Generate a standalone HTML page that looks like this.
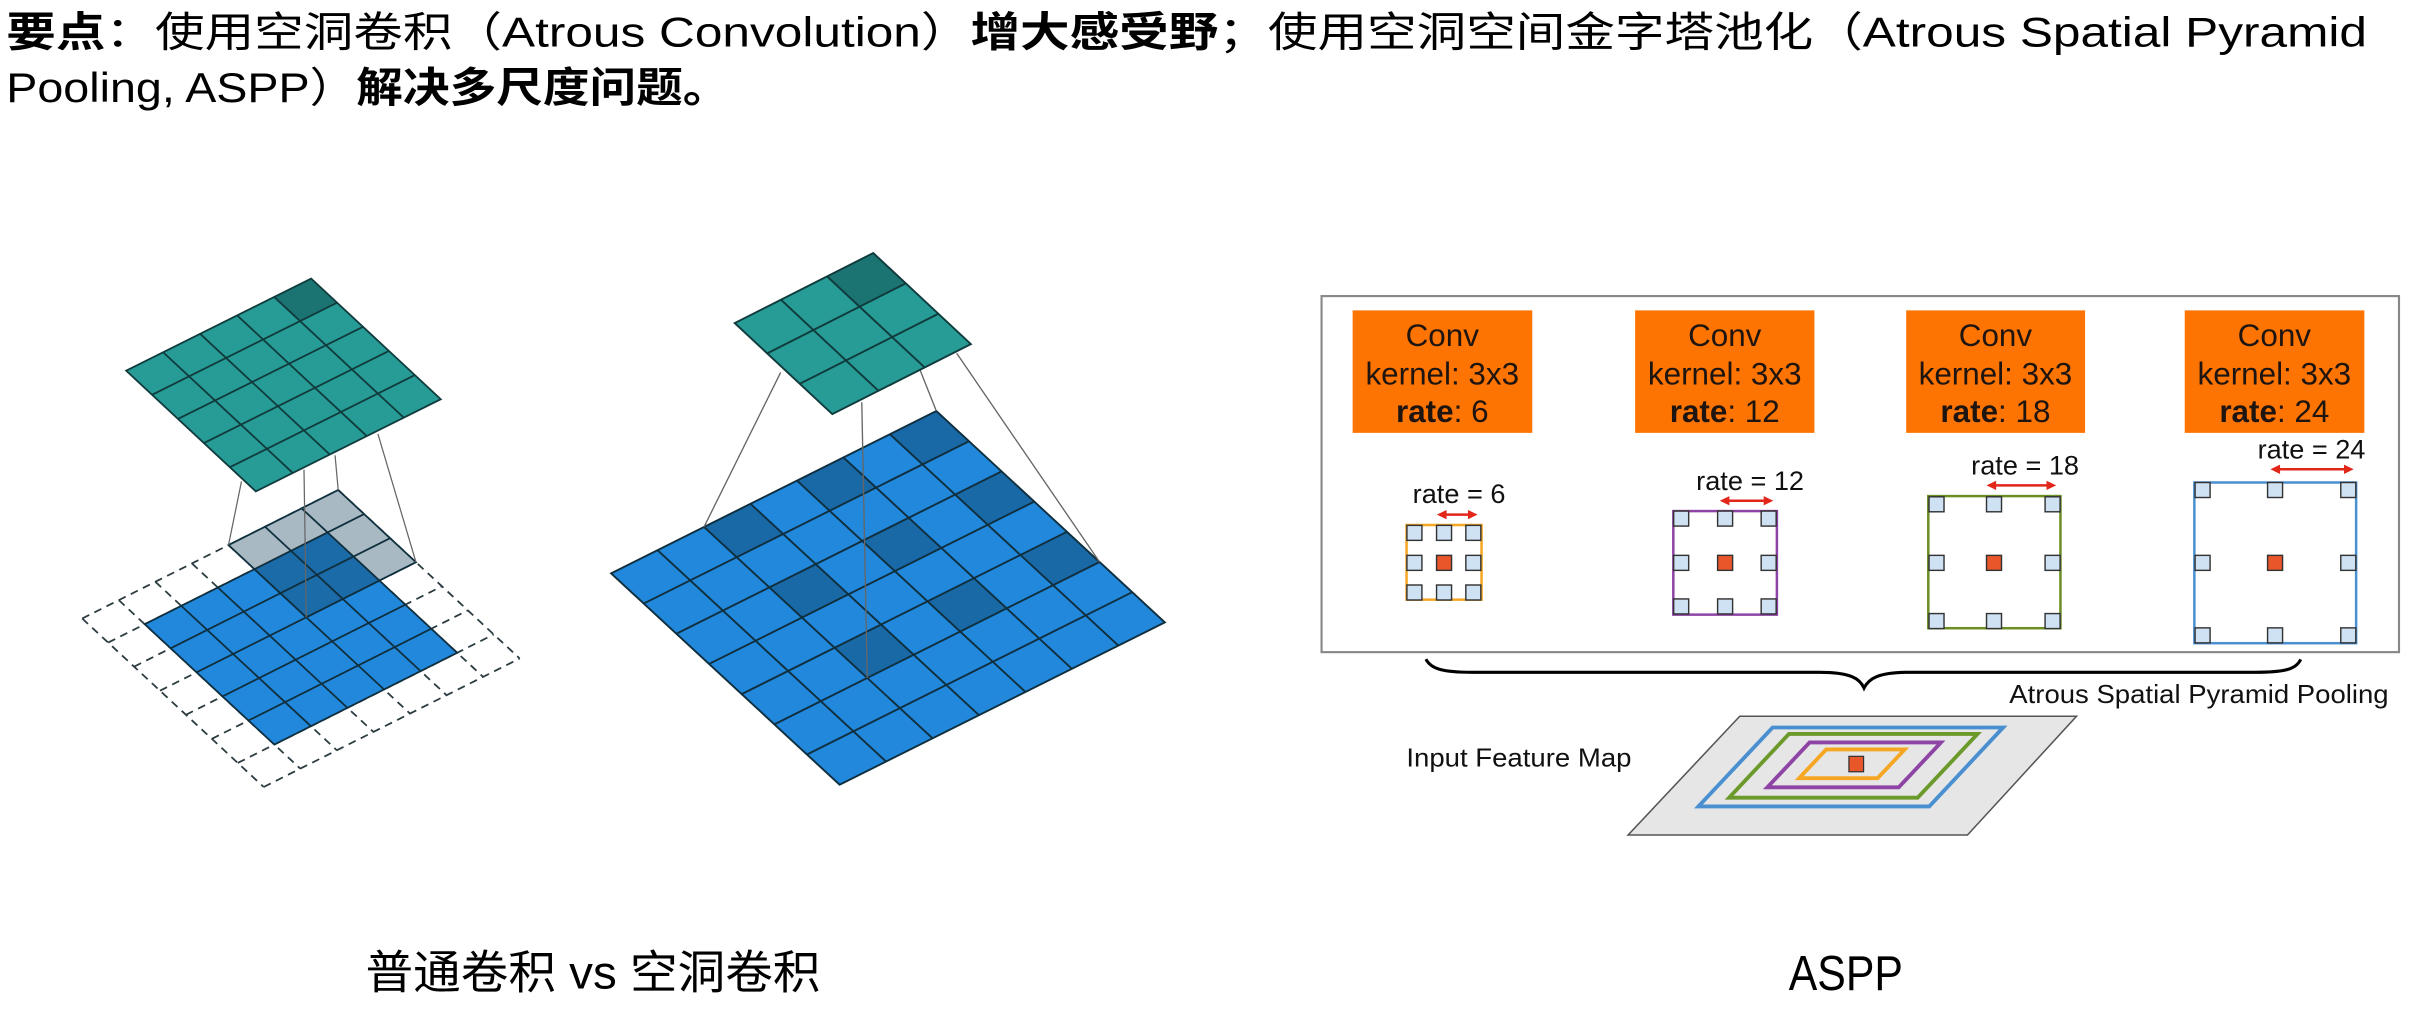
<!DOCTYPE html>
<html><head><meta charset="utf-8"><style>
html,body{margin:0;padding:0;background:#fff;}
svg{display:block;}
</style></head><body>
<svg width="2418" height="1014" viewBox="0 0 1568 657.6" xmlns="http://www.w3.org/2000/svg" font-family="'Liberation Sans','Noto Sans CJK SC',sans-serif">
<rect x="0" y="0" width="1568" height="657.6" fill="#fff"/>
<!-- Title -->
<text x="4" y="30" font-size="27" fill="#000" textLength="1531" lengthAdjust="spacingAndGlyphs"><tspan font-weight="bold">要点</tspan>：使用空洞卷积（Atrous Convolution）<tspan font-weight="bold">增大感受野</tspan>；使用空洞空间金字塔池化（Atrous Spatial Pyramid</text>
<text x="4" y="66" font-size="27" fill="#000" textLength="469" lengthAdjust="spacingAndGlyphs">Pooling, ASPP）<tspan font-weight="bold">解决多尺度问题。</tspan></text>

<!-- LEFT DIAGRAM -->
<g transform="translate(38.9,162.1) scale(0.2316)" stroke-linecap="butt">
  <g stroke="#2b3b40" stroke-width="5" stroke-dasharray="22,16" fill="none">
    <path d="M62,1032L570.2,1503.8M164.4,980.6L672.6,1452.4M266.8,929.2L775,1401M369.2,877.8L877.4,1349.6M471.6,826.4L979.8,1298.2M574,775L1082.2,1246.8M676.4,723.6L1184.6,1195.4M778.8,672.2L1287,1144"/>
    <path d="M62,1032L778.8,672.2M134.6,1099.4L851.4,739.6M207.2,1166.8L924,807M279.8,1234.2L996.6,874.4M352.4,1301.6L1069.2,941.8M425,1369L1141.8,1009.2M497.6,1436.4L1214.4,1076.6M570.2,1503.8L1287,1144"/>
  </g>
  <polygon points="237,1048 749,791 1112,1128 600,1385" fill="#2288dc" stroke="#0f2f3e" stroke-width="5"/>
  <g stroke="#0f2f3e" stroke-width="5">
    <path d="M339.4,996.6L702.4,1333.6M441.8,945.2L804.8,1282.2M544.2,893.8L907.2,1230.8M646.6,842.4L1009.6,1179.4"/>
    <path d="M309.6,1115.4L821.6,858.4M382.2,1182.8L894.2,925.8M454.8,1250.2L966.8,993.2M527.4,1317.6L1039.4,1060.6"/>
  </g>
  <polygon points="471.6,826.4 778.8,672.2 996.6,874.4 689.4,1028.6" fill="#a9b9c3"/>
  <polygon points="544.2,893.8 749,791 894.2,925.8 689.4,1028.6" fill="#1b6ba8"/>
  <g stroke="#0f2f3e" stroke-width="5" fill="none">
    <polygon points="471.6,826.4 778.8,672.2 996.6,874.4 689.4,1028.6"/>
    <path d="M574,775L791.8,977.2M676.4,723.6L894.2,925.8M544.2,893.8L851.4,739.6M616.8,961.2L924,807"/>
  </g>
  <g stroke="#666" stroke-width="3.5">
    <path d="M508,648L471.6,826.4M683,615L689.4,1028.6M770,575L778.8,672.2M890,515L996.6,874.4"/>
  </g>
  <polygon points="185,338 703,80 1066,418 548,676" fill="#279b96"/>
  <polygon points="599.4,131.6 703,80 775.6,147.6 672,199.2" fill="#1c7472"/>
  <g stroke="#103b3c" stroke-width="5" fill="none">
    <polygon points="185,338 703,80 1066,418 548,676"/>
    <path d="M288.6,286.4L651.6,624.4M392.2,234.8L755.2,572.8M495.8,183.2L858.8,521.2M599.4,131.6L962.4,469.6"/>
    <path d="M257.6,405.6L775.6,147.6M330.2,473.2L848.2,215.2M402.8,540.8L920.8,282.8M475.4,608.4L993.4,350.4"/>
  </g>
</g>

<!-- MIDDLE DIAGRAM -->
<g transform="translate(382.6,149.2) scale(0.2482)">
  <defs><polygon id="dc" points="0,0 121.4,-60.6 206.7,18.3 85.3,78.9" fill="#1a69a7"/></defs>
  <polygon points="55,897 904.8,472.8 1501.9,1025.1 652.1,1449.3" fill="#2288dc"/>
  <use href="#dc" transform="translate(297.8,775.8)"/>
  <use href="#dc" transform="translate(540.6,654.6)"/>
  <use href="#dc" transform="translate(783.4,533.4)"/>
  <use href="#dc" transform="translate(468.4,933.6)"/>
  <use href="#dc" transform="translate(711.2,812.4)"/>
  <use href="#dc" transform="translate(954,691.2)"/>
  <use href="#dc" transform="translate(639,1091.4)"/>
  <use href="#dc" transform="translate(881.8,970.2)"/>
  <use href="#dc" transform="translate(1124.6,849)"/>
  <g stroke="#0f2f3e" stroke-width="5" fill="none">
    <polygon points="55,897 904.8,472.8 1501.9,1025.1 652.1,1449.3"/>
    <path d="M176.4,836.4L773.5,1388.7M297.8,775.8L894.9,1328.1M419.2,715.2L1016.3,1267.5M540.6,654.6L1137.7,1206.9M662,594L1259.1,1146.3M783.4,533.4L1380.5,1085.7"/>
    <path d="M140.3,975.9L990.1,551.7M225.6,1054.8L1075.4,630.6M310.9,1133.7L1160.7,709.5M396.2,1212.6L1246,788.4M481.5,1291.5L1331.3,867.3M566.8,1370.4L1416.6,946.2"/>
  </g>
  <g stroke="#666" stroke-width="3.5">
    <path d="M498,372L297.8,775.8M710,450L724.3,1170.3M862,365L904.8,472.8M958,322L1331.3,867.3"/>
  </g>
  <polygon points="378,243 740,60 995,298 633,481" fill="#279b96"/>
  <polygon points="619.3,121 740,60 825,139.3 704.3,200.3" fill="#1c7472"/>
  <g stroke="#103b3c" stroke-width="5" fill="none">
    <polygon points="378,243 740,60 995,298 633,481"/>
    <path d="M498.7,182L753.7,420M619.3,121L874.3,359M463,322.3L825,139.3M548,401.7L910,218.7"/>
  </g>
</g>

<!-- ASPP -->
<g transform="translate(843.1,181.6) scale(0.2316)">
  <rect x="60" y="45" width="3017" height="997" fill="#fff" stroke="#888" stroke-width="6"/>
  <g fill="#fd7402">
    <rect x="147" y="85" width="503" height="343"/>
    <rect x="938" y="85" width="502" height="343"/>
    <rect x="1697" y="85" width="501" height="343"/>
    <rect x="2477" y="85" width="503" height="343"/>
  </g>
  <g fill="#1e1410" font-size="88" text-anchor="middle">
    <text x="398" y="185">Conv</text><text x="398" y="292">kernel: 3x3</text><text x="398" y="398"><tspan font-weight="bold">rate</tspan>: 6</text>
    <text x="1189" y="185">Conv</text><text x="1189" y="292">kernel: 3x3</text><text x="1189" y="398"><tspan font-weight="bold">rate</tspan>: 12</text>
    <text x="1947" y="185">Conv</text><text x="1947" y="292">kernel: 3x3</text><text x="1947" y="398"><tspan font-weight="bold">rate</tspan>: 18</text>
    <text x="2728" y="185">Conv</text><text x="2728" y="292">kernel: 3x3</text><text x="2728" y="398"><tspan font-weight="bold">rate</tspan>: 24</text>
  </g>
  <g fill="#111" font-size="76" text-anchor="middle">
    <text x="445" y="625">rate = 6</text>
    <text x="1260" y="588">rate = 12</text>
    <text x="2030" y="545">rate = 18</text>
    <text x="2832" y="500">rate = 24</text>
  </g>
  <g stroke="#e2261a" stroke-width="7" fill="#e2261a">
    <line x1="405" y1="657" x2="475" y2="657"/><polygon stroke="none" points="383,657 410,644 410,670"/><polygon stroke="none" points="497,657 470,644 470,670"/>
    <line x1="1197" y1="618" x2="1303" y2="618"/><polygon stroke="none" points="1175,618 1202,605 1202,631"/><polygon stroke="none" points="1325,618 1298,605 1298,631"/>
    <line x1="1944" y1="575" x2="2095" y2="575"/><polygon stroke="none" points="1922,575 1949,562 1949,588"/><polygon stroke="none" points="2117,575 2090,562 2090,588"/>
    <line x1="2739" y1="530" x2="2928" y2="530"/><polygon stroke="none" points="2717,530 2744,517 2744,543"/><polygon stroke="none" points="2950,530 2923,517 2923,543"/>
  </g>
  <rect x="298" y="686" width="210" height="209" fill="none" stroke="#f5a623" stroke-width="7"/>
  <rect x="1045" y="647" width="290" height="290" fill="none" stroke="#8e44a5" stroke-width="7"/>
  <rect x="1759" y="605" width="370" height="370" fill="none" stroke="#6b8e23" stroke-width="7"/>
  <rect x="2504" y="567" width="453" height="450" fill="none" stroke="#4a90d0" stroke-width="7"/>
  <g fill="#cfe2f3" stroke="#333" stroke-width="4">
    <rect x="299" y="687" width="42" height="42"/><rect x="382" y="687" width="42" height="42"/><rect x="464" y="687" width="42" height="42"/>
    <rect x="299" y="771" width="42" height="42"/><rect x="464" y="771" width="42" height="42"/>
    <rect x="299" y="854" width="42" height="42"/><rect x="382" y="854" width="42" height="42"/><rect x="464" y="854" width="42" height="42"/>
    <rect x="1046" y="647" width="42" height="42"/><rect x="1169" y="647" width="42" height="42"/><rect x="1291" y="647" width="42" height="42"/>
    <rect x="1046" y="771" width="42" height="42"/><rect x="1291" y="771" width="42" height="42"/>
    <rect x="1046" y="893" width="42" height="42"/><rect x="1169" y="893" width="42" height="42"/><rect x="1291" y="893" width="42" height="42"/>
    <rect x="1761" y="607" width="42" height="42"/><rect x="1922" y="607" width="42" height="42"/><rect x="2086" y="607" width="42" height="42"/>
    <rect x="1761" y="771" width="42" height="42"/><rect x="2086" y="771" width="42" height="42"/>
    <rect x="1761" y="934" width="42" height="42"/><rect x="1922" y="934" width="42" height="42"/><rect x="2086" y="934" width="42" height="42"/>
    <rect x="2506" y="567" width="42" height="42"/><rect x="2709" y="567" width="42" height="42"/><rect x="2914" y="567" width="42" height="42"/>
    <rect x="2506" y="771" width="42" height="42"/><rect x="2914" y="771" width="42" height="42"/>
    <rect x="2506" y="974" width="42" height="42"/><rect x="2709" y="974" width="42" height="42"/><rect x="2914" y="974" width="42" height="42"/>
  </g>
  <g fill="#e8562a" stroke="#333" stroke-width="4">
    <rect x="382" y="771" width="42" height="42"/>
    <rect x="1169" y="771" width="42" height="42"/>
    <rect x="1922" y="771" width="42" height="42"/>
    <rect x="2709" y="771" width="42" height="42"/>
  </g>
</g>

<path d="M924.7,427.5 C928,434 936,436 955,436 L1180,436 C1200,436 1206,440 1208.8,446.2 C1212,440 1218,436 1238,436 L1462,436 C1482,436 1489,434 1492,427.6" fill="none" stroke="#000" stroke-width="2"/>
<text x="1303" y="456" font-size="17" fill="#111" textLength="246" lengthAdjust="spacingAndGlyphs">Atrous Spatial Pyramid Pooling</text>
<text x="912" y="497" font-size="16.5" fill="#111" textLength="146" lengthAdjust="spacingAndGlyphs">Input Feature Map</text>

<polygon points="1128.2,464.5 1346.6,464.5 1275.9,541.5 1055.8,541.5" fill="#e6e6e6" stroke="#555" stroke-width="1"/>
<polygon points="1149.5,471.8 1299,471.8 1251.1,523 1101.4,523" fill="none" stroke="#4a90d0" stroke-width="2.5"/>
<polygon points="1160.1,476 1282.4,476 1243.6,517.3 1121.3,517.3" fill="none" stroke="#6b9a2a" stroke-width="2.5"/>
<polygon points="1173.5,481.5 1258.7,481.5 1231.3,510.6 1146.1,510.6" fill="none" stroke="#8e44a5" stroke-width="2.5"/>
<polygon points="1184.3,486 1235.2,486 1217.6,504.7 1166.7,504.7" fill="none" stroke="#f5a623" stroke-width="2.5"/>
<rect x="1199" y="490.5" width="9.5" height="10" fill="#e8562a" stroke="#333" stroke-width="0.8"/>

<text x="237" y="641" font-size="30" fill="#000" textLength="295" lengthAdjust="spacingAndGlyphs">普通卷积 vs 空洞卷积</text>
<text x="1160" y="642" font-size="32" fill="#000" textLength="74" lengthAdjust="spacingAndGlyphs">ASPP</text>
</svg>
</body></html>
